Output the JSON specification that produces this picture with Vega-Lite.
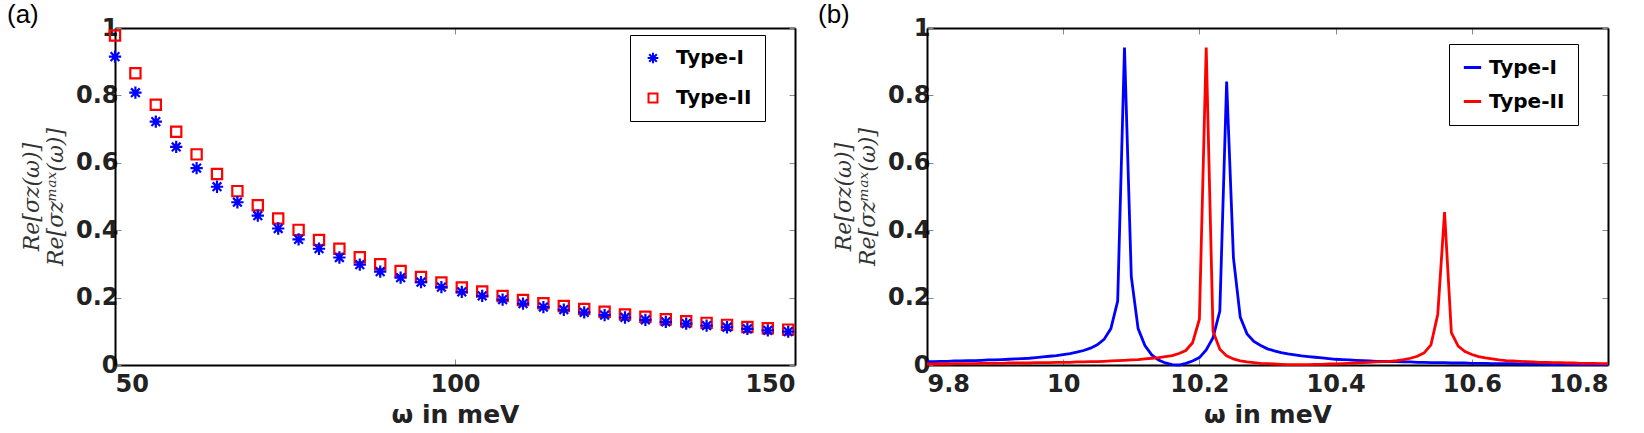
{
  "$schema": "https://vega.github.io/schema/vega-lite/v6.json",
  "padding": {"left": 7, "top": 2, "right": 0, "bottom": 0},
  "spacing": 19,
  "background": "white",
  "resolve": {"scale": {"color": "independent", "shape": "independent"}, "legend": {"color": "independent", "shape": "independent"}},
  "config": {
    "view": {"stroke": null},
    "axis": {
      "domainColor": "black", "domainWidth": 2,
      "tickColor": "#888", "tickSize": -6, "tickWidth": 1,
      "labelFont": "DejaVu Sans", "labelFontWeight": "bold", "labelFontSize": 24, "labelColor": "#222",
      "grid": false,
      "titleFont": "DejaVu Sans", "titleFontWeight": "bold", "titleFontSize": 25, "titleColor": "#222"
    },
    "legend": {
      "orient": "none", "strokeColor": "black", "fillColor": "white",
      "labelFont": "DejaVu Sans", "labelFontWeight": "bold", "labelFontSize": 20, "labelColor": "black",
      "title": null
    },
    "title": {"font": "Liberation Sans", "fontWeight": "normal", "fontSize": 26, "color": "black", "anchor": "start", "frame": "group"}
  },
  "datasets": {
    "a": [
      {"w":50,"Type-I":0.915,"Type-II":0.978},
      {"w":53,"Type-I":0.808,"Type-II":0.866},
      {"w":56,"Type-I":0.722,"Type-II":0.772},
      {"w":59,"Type-I":0.647,"Type-II":0.692},
      {"w":62,"Type-I":0.584,"Type-II":0.625},
      {"w":65,"Type-I":0.529,"Type-II":0.567},
      {"w":68,"Type-I":0.483,"Type-II":0.516},
      {"w":71,"Type-I":0.443,"Type-II":0.474},
      {"w":74,"Type-I":0.405,"Type-II":0.435},
      {"w":77,"Type-I":0.373,"Type-II":0.401},
      {"w":80,"Type-I":0.345,"Type-II":0.371},
      {"w":83,"Type-I":0.319,"Type-II":0.345},
      {"w":86,"Type-I":0.298,"Type-II":0.320},
      {"w":89,"Type-I":0.277,"Type-II":0.299},
      {"w":92,"Type-I":0.259,"Type-II":0.279},
      {"w":95,"Type-I":0.246,"Type-II":0.261},
      {"w":98,"Type-I":0.231,"Type-II":0.245},
      {"w":101,"Type-I":0.217,"Type-II":0.230},
      {"w":104,"Type-I":0.205,"Type-II":0.218},
      {"w":107,"Type-I":0.194,"Type-II":0.205},
      {"w":110,"Type-I":0.182,"Type-II":0.193},
      {"w":113,"Type-I":0.172,"Type-II":0.183},
      {"w":116,"Type-I":0.164,"Type-II":0.175},
      {"w":119,"Type-I":0.156,"Type-II":0.166},
      {"w":122,"Type-I":0.148,"Type-II":0.158},
      {"w":125,"Type-I":0.141,"Type-II":0.150},
      {"w":128,"Type-I":0.134,"Type-II":0.143},
      {"w":131,"Type-I":0.128,"Type-II":0.136},
      {"w":134,"Type-I":0.123,"Type-II":0.130},
      {"w":137,"Type-I":0.117,"Type-II":0.125},
      {"w":140,"Type-I":0.112,"Type-II":0.119},
      {"w":143,"Type-I":0.107,"Type-II":0.113},
      {"w":146,"Type-I":0.103,"Type-II":0.109},
      {"w":149,"Type-I":0.099,"Type-II":0.105}
    ],
    "b": [
      {"w":9.80,"Type-I":0.010,"Type-II":0.003},
      {"w":9.81,"Type-I":0.010,"Type-II":0.003},
      {"w":9.82,"Type-I":0.011,"Type-II":0.003},
      {"w":9.83,"Type-I":0.011,"Type-II":0.003},
      {"w":9.84,"Type-I":0.012,"Type-II":0.004},
      {"w":9.85,"Type-I":0.012,"Type-II":0.004},
      {"w":9.86,"Type-I":0.013,"Type-II":0.004},
      {"w":9.87,"Type-I":0.013,"Type-II":0.004},
      {"w":9.88,"Type-I":0.014,"Type-II":0.005},
      {"w":9.89,"Type-I":0.015,"Type-II":0.005},
      {"w":9.90,"Type-I":0.015,"Type-II":0.005},
      {"w":9.91,"Type-I":0.016,"Type-II":0.005},
      {"w":9.92,"Type-I":0.017,"Type-II":0.006},
      {"w":9.93,"Type-I":0.018,"Type-II":0.006},
      {"w":9.94,"Type-I":0.019,"Type-II":0.006},
      {"w":9.95,"Type-I":0.020,"Type-II":0.006},
      {"w":9.96,"Type-I":0.022,"Type-II":0.007},
      {"w":9.97,"Type-I":0.024,"Type-II":0.007},
      {"w":9.98,"Type-I":0.026,"Type-II":0.007},
      {"w":9.99,"Type-I":0.028,"Type-II":0.008},
      {"w":10.00,"Type-I":0.031,"Type-II":0.008},
      {"w":10.01,"Type-I":0.034,"Type-II":0.008},
      {"w":10.02,"Type-I":0.038,"Type-II":0.009},
      {"w":10.03,"Type-I":0.043,"Type-II":0.009},
      {"w":10.04,"Type-I":0.050,"Type-II":0.010},
      {"w":10.05,"Type-I":0.060,"Type-II":0.010},
      {"w":10.06,"Type-I":0.076,"Type-II":0.011},
      {"w":10.07,"Type-I":0.108,"Type-II":0.012},
      {"w":10.08,"Type-I":0.190,"Type-II":0.013},
      {"w":10.09,"Type-I":0.942,"Type-II":0.014},
      {"w":10.10,"Type-I":0.262,"Type-II":0.015},
      {"w":10.11,"Type-I":0.108,"Type-II":0.016},
      {"w":10.12,"Type-I":0.058,"Type-II":0.018},
      {"w":10.13,"Type-I":0.030,"Type-II":0.020},
      {"w":10.14,"Type-I":0.015,"Type-II":0.022},
      {"w":10.15,"Type-I":0.006,"Type-II":0.025},
      {"w":10.16,"Type-I":0.001,"Type-II":0.028},
      {"w":10.17,"Type-I":0.000,"Type-II":0.034},
      {"w":10.18,"Type-I":0.005,"Type-II":0.043},
      {"w":10.19,"Type-I":0.012,"Type-II":0.066},
      {"w":10.20,"Type-I":0.022,"Type-II":0.136},
      {"w":10.21,"Type-I":0.045,"Type-II":0.942},
      {"w":10.22,"Type-I":0.081,"Type-II":0.100},
      {"w":10.23,"Type-I":0.160,"Type-II":0.047},
      {"w":10.24,"Type-I":0.841,"Type-II":0.027},
      {"w":10.25,"Type-I":0.318,"Type-II":0.018},
      {"w":10.26,"Type-I":0.142,"Type-II":0.012},
      {"w":10.27,"Type-I":0.092,"Type-II":0.009},
      {"w":10.28,"Type-I":0.070,"Type-II":0.007},
      {"w":10.29,"Type-I":0.058,"Type-II":0.005},
      {"w":10.30,"Type-I":0.048,"Type-II":0.004},
      {"w":10.31,"Type-I":0.042,"Type-II":0.003},
      {"w":10.32,"Type-I":0.037,"Type-II":0.002},
      {"w":10.33,"Type-I":0.033,"Type-II":0.001},
      {"w":10.34,"Type-I":0.030,"Type-II":0.001},
      {"w":10.35,"Type-I":0.027,"Type-II":0.001},
      {"w":10.36,"Type-I":0.025,"Type-II":0.001},
      {"w":10.37,"Type-I":0.023,"Type-II":0.002},
      {"w":10.38,"Type-I":0.021,"Type-II":0.002},
      {"w":10.39,"Type-I":0.019,"Type-II":0.003},
      {"w":10.40,"Type-I":0.017,"Type-II":0.003},
      {"w":10.41,"Type-I":0.016,"Type-II":0.004},
      {"w":10.42,"Type-I":0.015,"Type-II":0.005},
      {"w":10.43,"Type-I":0.014,"Type-II":0.006},
      {"w":10.44,"Type-I":0.013,"Type-II":0.007},
      {"w":10.45,"Type-I":0.012,"Type-II":0.008},
      {"w":10.46,"Type-I":0.011,"Type-II":0.009},
      {"w":10.47,"Type-I":0.011,"Type-II":0.010},
      {"w":10.48,"Type-I":0.010,"Type-II":0.011},
      {"w":10.49,"Type-I":0.010,"Type-II":0.013},
      {"w":10.50,"Type-I":0.009,"Type-II":0.016},
      {"w":10.51,"Type-I":0.009,"Type-II":0.020},
      {"w":10.52,"Type-I":0.008,"Type-II":0.026},
      {"w":10.53,"Type-I":0.008,"Type-II":0.036},
      {"w":10.54,"Type-I":0.007,"Type-II":0.060},
      {"w":10.55,"Type-I":0.007,"Type-II":0.150},
      {"w":10.56,"Type-I":0.007,"Type-II":0.454},
      {"w":10.57,"Type-I":0.006,"Type-II":0.096},
      {"w":10.58,"Type-I":0.006,"Type-II":0.056},
      {"w":10.59,"Type-I":0.006,"Type-II":0.040},
      {"w":10.60,"Type-I":0.005,"Type-II":0.031},
      {"w":10.61,"Type-I":0.005,"Type-II":0.025},
      {"w":10.62,"Type-I":0.005,"Type-II":0.021},
      {"w":10.63,"Type-I":0.004,"Type-II":0.018},
      {"w":10.64,"Type-I":0.004,"Type-II":0.015},
      {"w":10.65,"Type-I":0.004,"Type-II":0.013},
      {"w":10.66,"Type-I":0.004,"Type-II":0.012},
      {"w":10.67,"Type-I":0.003,"Type-II":0.011},
      {"w":10.68,"Type-I":0.003,"Type-II":0.010},
      {"w":10.69,"Type-I":0.003,"Type-II":0.009},
      {"w":10.70,"Type-I":0.003,"Type-II":0.008},
      {"w":10.71,"Type-I":0.002,"Type-II":0.008},
      {"w":10.72,"Type-I":0.002,"Type-II":0.007},
      {"w":10.73,"Type-I":0.002,"Type-II":0.007},
      {"w":10.74,"Type-I":0.002,"Type-II":0.006},
      {"w":10.75,"Type-I":0.001,"Type-II":0.006},
      {"w":10.76,"Type-I":0.001,"Type-II":0.005},
      {"w":10.77,"Type-I":0.001,"Type-II":0.005},
      {"w":10.78,"Type-I":0.001,"Type-II":0.005},
      {"w":10.79,"Type-I":0.001,"Type-II":0.004},
      {"w":10.80,"Type-I":0.001,"Type-II":0.004}
    ]
  },
  "hconcat": [
    {
      "width": 680, "height": 337,
      "title": {"text": "(a)", "dx": -108, "offset": -12},
      "data": {"name": "a"},
      "transform": [{"fold": ["Type-II", "Type-I"], "as": ["series", "v"]}],
      "layer": [
        {
          "mark": {"type": "point", "filled": false, "strokeWidth": 2.2, "size": 105, "opacity": 1},
          "encoding": {
            "x": {"field": "w", "type": "quantitative", "scale": {"domain": [50, 150], "nice": false, "zero": false},
                  "axis": {"values": [50, 100, 150], "format": "d", "title": "ω in meV", "labelPadding": 13, "titlePadding": 6}},
            "y": {"field": "v", "type": "quantitative", "scale": {"domain": [0, 1], "nice": false},
                  "axis": {"values": [0, 0.2, 0.4, 0.6, 0.8, 1], "format": "~g", "labelPadding": 3,
                           "title": ["Re[σz(ω)]", "Re[σzᵐᵃˣ(ω)]"], "titleFont": "DejaVu Serif", "titleFontStyle": "italic",
                           "titleFontWeight": "normal", "titleFontSize": 22, "titleColor": "#333", "titlePadding": 8}},
            "color": {"field": "series", "type": "nominal",
                      "scale": {"domain": ["Type-I", "Type-II"], "range": ["#0000ff", "#ff0000"]},
                      "legend": {"legendX": 515, "legendY": 7, "symbolSize": 80, "symbolStrokeWidth": 2, "rowPadding": 20, "labelOffset": 13, "padding": 13}},
            "shape": {"field": "series", "type": "nominal",
                      "scale": {"domain": ["Type-I", "Type-II"], "range": ["M0,-1.2L0,1.2M-1.2,0L1.2,0M-0.85,-0.85L0.85,0.85M-0.85,0.85L0.85,-0.85", "square"]}}
          }
        },
        {
          "mark": {"type": "point", "opacity": 0},
          "encoding": {
            "x": {"field": "w", "type": "quantitative", "axis": {"orient": "top", "values": [50, 100, 150], "labels": false, "title": null}},
            "y": {"field": "v", "type": "quantitative", "axis": {"orient": "right", "values": [0, 0.2, 0.4, 0.6, 0.8, 1], "labels": false, "title": null}}
          }
        }
      ],
      "resolve": {"axis": {"x": "independent", "y": "independent"}}
    },
    {
      "width": 681, "height": 337,
      "title": {"text": "(b)", "dx": -109, "offset": -12},
      "data": {"name": "b"},
      "transform": [{"fold": ["Type-I", "Type-II"], "as": ["series", "v"]}],
      "layer": [
        {
          "mark": {"type": "line", "strokeWidth": 2.8},
          "encoding": {
            "x": {"field": "w", "type": "quantitative", "scale": {"domain": [9.8, 10.8], "nice": false, "zero": false},
                  "axis": {"values": [9.8, 10, 10.2, 10.4, 10.6, 10.8], "format": "~g", "title": "ω in meV", "labelPadding": 13, "titlePadding": 6}},
            "y": {"field": "v", "type": "quantitative", "scale": {"domain": [0, 1], "nice": false},
                  "axis": {"values": [0, 0.2, 0.4, 0.6, 0.8, 1], "format": "~g", "labelPadding": 3,
                           "title": ["Re[σz(ω)]", "Re[σzᵐᵃˣ(ω)]"], "titleFont": "DejaVu Serif", "titleFontStyle": "italic",
                           "titleFontWeight": "normal", "titleFontSize": 22, "titleColor": "#333", "titlePadding": 8}},
            "color": {"field": "series", "type": "nominal",
                      "scale": {"domain": ["Type-I", "Type-II"], "range": ["#0000ff", "#ff0000"]},
                      "legend": {"legendX": 522, "legendY": 16, "symbolType": "stroke", "symbolSize": 300, "symbolStrokeWidth": 3, "rowPadding": 13, "labelOffset": 6, "padding": 13}}
          }
        },
        {
          "mark": {"type": "point", "opacity": 0},
          "encoding": {
            "x": {"field": "w", "type": "quantitative", "axis": {"orient": "top", "values": [9.8, 10, 10.2, 10.4, 10.6, 10.8], "labels": false, "title": null}},
            "y": {"field": "v", "type": "quantitative", "axis": {"orient": "right", "values": [0, 0.2, 0.4, 0.6, 0.8, 1], "labels": false, "title": null}}
          }
        }
      ],
      "resolve": {"axis": {"x": "independent", "y": "independent"}}
    }
  ]
}
